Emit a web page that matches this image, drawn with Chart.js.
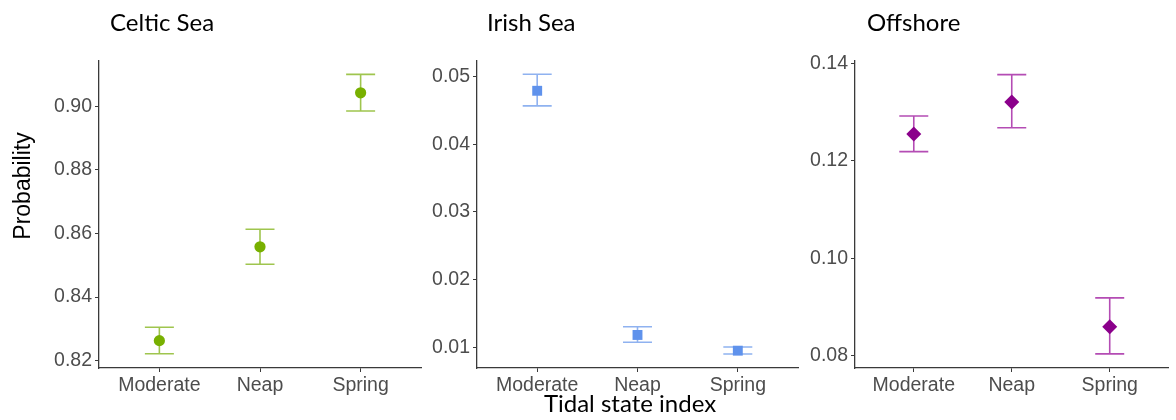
<!DOCTYPE html>
<html>
<head>
<meta charset="utf-8">
<script src="https://cdn.jsdelivr.net/npm/chart.js@4/dist/chart.umd.min.js"></script>
<style>
  html, body { margin: 0; padding: 0; background: #fff; }
  body { width: 1176px; height: 420px; position: relative; overflow: hidden; }
  canvas { position: absolute; top: 0; }
</style>
</head>
<body>
<canvas id="c1" width="430" height="420" style="left:0px"></canvas>
<canvas id="c2" width="375" height="420" style="left:430px"></canvas>
<canvas id="c3" width="371" height="420" style="left:805px"></canvas>
<script>
// ---- data ----
const categories = ['Moderate', 'Neap', 'Spring'];

const celticMean = [0.8263, 0.8558, 0.9042];
const celticLow  = [0.8222, 0.8503, 0.8985];
const celticHigh = [0.8305, 0.8613, 0.9100];
const celticTicks = [0.82, 0.84, 0.86, 0.88, 0.90];

const irishMean = [0.0479, 0.01182, 0.0095];
const irishLow  = [0.04567, 0.01074, 0.00901];
const irishHigh = [0.05035, 0.01304, 0.01004];
const irishTicks = [0.01, 0.02, 0.03, 0.04, 0.05];

const offMean = [0.1255, 0.1321, 0.08595];
const offLow  = [0.1219, 0.1268, 0.0804];
const offHigh = [0.1292, 0.1377, 0.0919];
const offTicks = [0.08, 0.10, 0.12, 0.14];

// ---- plugins ----
const errorBarPlugin = {
  id: 'errorBars',
  beforeDatasetsDraw(chart, args, opts) {
    const ctx = chart.ctx;
    const xs = chart.scales.x, ys = chart.scales.y;
    ctx.save();
    ctx.strokeStyle = opts.color;
    ctx.lineWidth = opts.width || 1.5;
    opts.low.forEach((lo, i) => {
      const hi = opts.high[i];
      const x = xs.getPixelForValue(i);
      const y1 = ys.getPixelForValue(lo);
      const y2 = ys.getPixelForValue(hi);
      const hw = opts.capHalf;
      ctx.beginPath();
      ctx.moveTo(x, y1); ctx.lineTo(x, y2);
      ctx.moveTo(x - hw, y1); ctx.lineTo(x + hw, y1);
      ctx.moveTo(x - hw, y2); ctx.lineTo(x + hw, y2);
      ctx.stroke();
    });
    ctx.restore();
  }
};

const freeTextPlugin = {
  id: 'freeText',
  afterDraw(chart, args, opts) {
    const ctx = chart.ctx;
    (opts.items || []).forEach(it => {
      ctx.save();
      ctx.font = it.font;
      ctx.fillStyle = it.color || '#000';
      ctx.textAlign = it.align || 'left';
      ctx.textBaseline = 'alphabetic';
      ctx.translate(it.x, it.y);
      if (it.rotation) ctx.rotate(it.rotation);
      ctx.fillText(it.text, 0, 0);
      ctx.restore();
    });
  }
};

const tickFont = { family: "'Liberation Sans', Arimo, Arial, Helvetica, sans-serif", size: 19.5 };
const tickColor = '#4d4d4d';
const axisColor = '#3a3a3a';

function makePanel(id, opt) {
  const ctx = document.getElementById(id);
  return new Chart(ctx, {
    type: 'line',
    data: {
      datasets: [{
        data: opt.mean.map((v, i) => ({ x: i, y: v })),
        showLine: false,
        pointStyle: opt.pointStyle,
        pointRadius: opt.pointRadius,
        pointHoverRadius: opt.pointRadius,
        pointBackgroundColor: opt.pointColor,
        pointBorderColor: opt.pointColor,
        pointBorderWidth: 0
      }]
    },
    options: {
      responsive: false,
      animation: false,
      events: [],
      layout: { padding: { top: 61, right: opt.padRight, bottom: 0, left: 0 } },
      plugins: {
        legend: { display: false },
        tooltip: { enabled: false },
        errorBars: { low: opt.low, high: opt.high, color: opt.barColor, capHalf: 14.5, width: 1.6 },
        freeText: { items: opt.texts }
      },
      scales: {
        x: {
          type: 'linear',
          min: -0.6, max: 2.6,
          afterBuildTicks: (s) => { s.ticks = categories.map((c, i) => ({ value: i })); },
          afterFit: (s) => { s.height = 52; },
          ticks: {
            font: tickFont, color: tickColor, padding: 2,
            callback: (v) => categories[v]
          },
          grid: { drawOnChartArea: false, drawTicks: true, tickLength: 4, color: axisColor, lineWidth: 1 },
          border: { display: true, color: axisColor, width: 1.3 }
        },
        y: {
          type: 'linear',
          min: opt.ymin, max: opt.ymax,
          afterBuildTicks: (s) => { s.ticks = opt.ticks.map(v => ({ value: v })); },
          afterFit: (s) => { s.width = opt.yWidth; },
          ticks: {
            font: tickFont, color: tickColor, padding: 3,
            callback: (v) => v.toFixed(2)
          },
          grid: { drawOnChartArea: false, drawTicks: true, tickLength: 4, color: axisColor, lineWidth: 1 },
          border: { display: true, color: axisColor, width: 1.3 }
        }
      }
    },
    plugins: [errorBarPlugin, freeTextPlugin]
  });
}

const titleFont = '24px Lato, "Open Sans", sans-serif';

makePanel('c1', {
  mean: celticMean, low: celticLow, high: celticHigh, ticks: celticTicks,
  ymin: 0.8177, ymax: 0.9142, yWidth: 99, padRight: 9,
  pointStyle: 'circle', pointRadius: 5.6, pointColor: '#78b000', barColor: '#9fc54e',
  texts: [
    { text: 'Celtic Sea', x: 110, y: 31, font: titleFont },
    { text: 'Probability', x: 30, y: 186, font: "23px 'Liberation Sans', Arimo, Arial, sans-serif", rotation: -Math.PI / 2, align: 'center' }
  ]
});

makePanel('c2', {
  mean: irishMean, low: irishLow, high: irishHigh, ticks: irishTicks,
  ymin: 0.00694, ymax: 0.0523, yWidth: 47, padRight: 5,
  pointStyle: 'rect', pointRadius: 7, pointColor: '#5f92ec', barColor: '#8fb2f0',
  texts: [
    { text: 'Irish Sea', x: 57, y: 31, font: titleFont },
    { text: 'Tidal state index', x: 200, y: 412, font: '24px Lato, "Open Sans", sans-serif', align: 'center' }
  ]
});

makePanel('c3', {
  mean: offMean, low: offLow, high: offHigh, ticks: offTicks,
  ymin: 0.0775, ymax: 0.1405, yWidth: 50, padRight: 0,
  pointStyle: 'rectRot', pointRadius: 7.5, pointColor: '#8b008b', barColor: '#b44cb4',
  texts: [
    { text: 'Offshore', x: 62, y: 31, font: titleFont }
  ]
});
</script>
</body>
</html>
